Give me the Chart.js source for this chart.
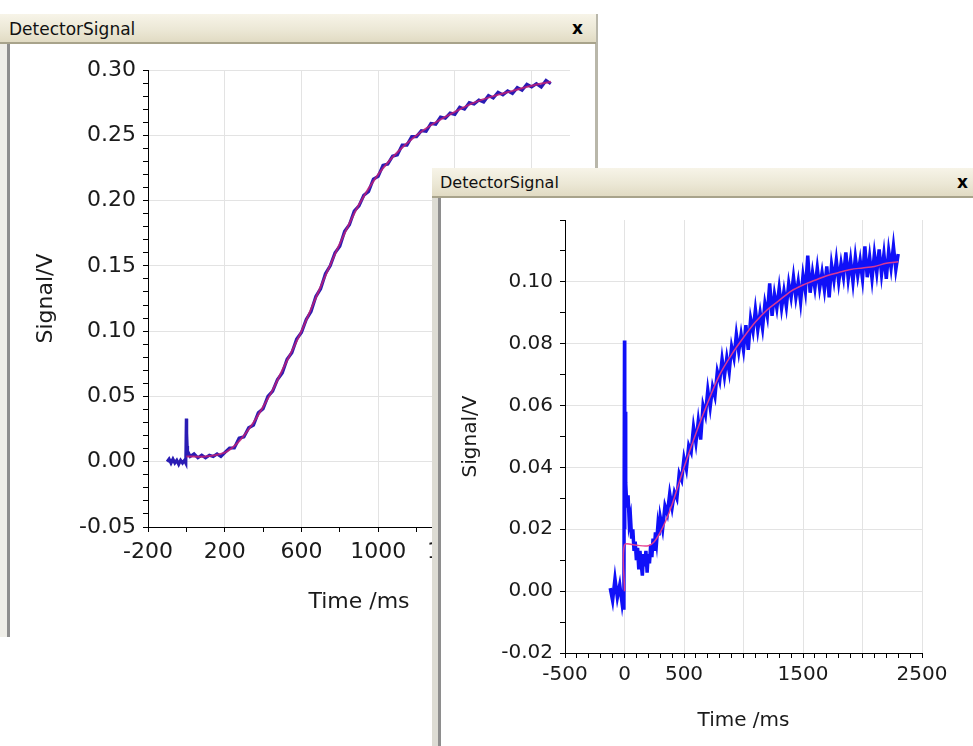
<!DOCTYPE html>
<html><head><meta charset="utf-8">
<script src="https://cdn.jsdelivr.net/npm/chart.js@4.4.1/dist/chart.umd.min.js"></script>
<style>
html,body{margin:0;padding:0;background:#fff;width:973px;height:746px;overflow:hidden;font-family:"DejaVu Sans",sans-serif;}
.abs{position:absolute;}
.tbar{position:absolute;background:linear-gradient(#f7f4e8,#ece8d6 55%,#e1dbc3);border-bottom:2px solid #a8a38b;box-sizing:border-box;}
.ttl{position:absolute;left:9px;top:5px;font-size:17px;color:#111;white-space:nowrap;}
.cls{position:absolute;top:4px;font-size:17px;font-weight:bold;color:#000;}
</style></head><body>
<!-- window 1 frame -->
<div class="abs" style="left:0;top:43px;width:8px;height:594px;background:#efeee8"></div>
<div class="abs" style="left:7px;top:43px;width:3px;height:594px;background:#8e8e8e"></div>
<div class="abs" style="left:595px;top:14px;width:3px;height:160px;background:#b9b7aa"></div>
<div class="tbar" style="left:0;top:14px;width:596px;height:30px"><span class="ttl">DetectorSignal</span><span class="cls" style="left:572px">x</span></div>
<div class="abs" style="left:10px;top:44px;width:585px;height:593px"><canvas id="c1"></canvas></div>
<!-- window 2 frame -->
<div class="abs" style="left:432px;top:168px;width:541px;height:578px;background:#fff;z-index:5">
  <div class="abs" style="left:0;top:29px;width:6px;height:549px;background:#dddcd4"></div>
  <div class="abs" style="left:6px;top:29px;width:3px;height:549px;background:#8e8e8e"></div>
  <div class="tbar" style="left:0;top:0;width:541px;height:30px"><span class="ttl" style="font-size:16px;left:8px">DetectorSignal</span><span class="cls" style="left:525px">x</span></div>
  <div class="abs" style="left:9px;top:30px;width:532px;height:548px"><canvas id="c2"></canvas></div>
</div>
<script>
// ---------- Chart 1 (first window) ----------
const time1 = [-100,-90,-80,-70,-60,-50,-40,-30,-20,-10,-3,
  0,1,2,4,6,10,
  20,40,60,80,100,120,140,160,180,200,
  225,250,275,300,325,350,375,400,425,450,475,500,525,550,575,600,625,650,675,700,
  725,750,775,800,825,850,875,900,925,950,975,1000,1025,1050,1075,1100,1125,1150,1175,1200,
  1225,1250,1275,1300,1325,1350,1375,1400,1425,1450,1475,1500,1525,1550,1575,1600,
  1625,1650,1675,1700,1725,1750,1775,1800,1825,1850,1875,1900];
const signal1 = [0.000,0.002,-0.001,0.002,-0.001,0.001,-0.002,0.001,-0.001,0.001,-0.001,
  0.033,0.006,0.022,0.012,0.006,0.007,
  0.004,0.006,0.003,0.005,0.003,0.005,0.004,0.006,0.004,0.007,
  0.0105,0.0105,0.018,0.019,0.026,0.028,0.0375,0.0405,0.050,0.054,0.063,0.068,0.0785,0.0835,0.094,0.099,0.109,0.115,0.1265,0.1325,
  0.144,0.150,0.160,0.165,0.1765,0.1815,0.192,0.196,0.204,0.207,0.2165,0.2185,0.227,0.228,0.234,0.235,0.2425,0.2425,0.249,0.249,
  0.2535,0.253,0.259,0.2585,0.264,0.263,0.267,0.266,0.2715,0.270,0.275,0.274,0.277,0.2755,0.2805,0.2785,
  0.283,0.281,0.284,0.282,0.2865,0.2845,0.289,0.287,0.2895,0.287,0.292,0.2895];
const fitTime1 = [0,100,200,250,300,350,400,450,500,600,700,800,900,1000,1100,1200,1300,1400,1500,1600,1700,1800,1900];
const fit1 = [0.004,0.004,0.007,0.012,0.020,0.030,0.042,0.055,0.070,0.100,0.134,0.167,0.197,0.220,0.237,0.250,0.260,0.268,0.275,0.280,0.284,0.288,0.291];
const xLabels1 = [-200,200,600,1000,1400,1800];

// ---------- Chart 2 (second window) ----------
const time2 = [-120,-100,-80,-60,-40,-20,-10,-5,
  0,1,2,3,5,8,12,
  20,30,40,50,60,70,80,90,100,110,120,130,140,150,160,170,180,190,200,210,220,230,240,250,260,270,280,290,
  300,320,340,360,380,400,420,440,460,480,500,520,540,560,580,600,620,640,660,680,700,
  720,740,760,780,800,820,840,860,880,900,920,940,960,980,1000,1020,1040,1060,1080,1100,
  1120,1140,1160,1180,1200,1220,1240,1260,1280,1300,1320,1340,1360,1380,1400,1420,1440,1460,1480,1500,
  1520,1540,1560,1580,1600,1620,1640,1660,1680,1700,1720,1740,1760,1780,1800,1820,1840,1860,1880,1900,
  1920,1940,1960,1980,2000,2020,2040,2060,2080,2100,2120,2140,2160,2180,2200,2220,2240,2260,2280,2300];
const signal2 = [0.001,-0.003,0.004,-0.002,0.002,-0.004,-0.001,-0.006,
  0.081,0.020,0.061,0.024,0.058,0.030,0.035,
  0.027,0.031,0.022,0.024,0.017,0.020,0.013,0.016,0.010,0.014,0.007,0.013,0.009,0.005,0.012,0.008,0.013,0.006,0.012,0.009,0.015,0.011,0.017,0.013,0.019,0.016,0.021,0.018,
  0.024,0.020,0.0275,0.025,0.0315,0.027,0.032,0.030,0.038,0.036,0.043,0.0395,0.047,0.045,0.053,0.048,0.055,0.049,0.060,0.057,0.065,
  0.0595,0.066,0.063,0.071,0.068,0.075,0.0695,0.0755,0.071,0.079,0.0755,0.083,0.0775,0.083,0.078,0.086,0.078,0.088,0.084,0.091,
  0.0845,0.090,0.085,0.093,0.089,0.0995,0.089,0.096,0.0915,0.098,0.0915,0.097,0.092,0.0995,0.095,0.1015,0.095,0.100,0.0935,0.102,
  0.097,0.1085,0.0965,0.103,0.098,0.1045,0.098,0.103,0.0975,0.105,0.095,0.1055,0.1005,0.107,0.100,0.106,0.1015,0.1095,0.101,0.107,
  0.100,0.108,0.102,0.107,0.101,0.1115,0.1015,0.108,0.101,0.109,0.103,0.1105,0.1025,0.109,0.101,0.110,0.1045,0.1115,0.104,0.109];
const fitTime2 = [0,0,100,200,250,300,350,400,450,500,600,700,800,900,1000,1100,1200,1300,1400,1500,1600,1700,1800,1900,2000,2100,2200,2300];
const fit2 = [0.0,0.015,0.0148,0.0147,0.016,0.019,0.023,0.028,0.034,0.040,0.051,0.061,0.070,0.0765,0.082,0.087,0.091,0.094,0.097,0.099,0.1005,0.102,0.103,0.104,0.1045,0.105,0.106,0.1065];
const xLabels2 = [-500,0,500,1500,2500];

const pts = (xs, ys) => xs.map((x, i) => ({x, y: ys[i]}));
const GRID = '#e3e3e3';

function makeChart(id, o) {
  return new Chart(document.getElementById(id), {
    type: 'line',
    data: { datasets: [
      { data: pts(o.fitT, o.fit), borderColor: o.fitColor, borderWidth: o.fitW, pointRadius: 0, tension: 0.3, fill: false },
      { data: pts(o.t, o.s), borderColor: o.dataColor, borderWidth: o.dataW, pointRadius: 0, tension: 0, fill: false, borderJoinStyle: 'miter' }
    ]},
    options: {
      animation: false, responsive: true, maintainAspectRatio: false,
      layout: { padding: { top: o.padTop, right: o.padRight, left: 0, bottom: 0 } },
      plugins: { legend: { display: false }, tooltip: { enabled: false } },
      scales: {
        x: {
          type: 'linear', min: o.xMin, max: o.xMax,
          ticks: { stepSize: o.xStep, autoSkip: false, maxRotation: 0, padding: o.xTickPad, color: '#1a1a1a',
            font: { family: 'DejaVu Sans', size: o.fs },
            callback: v => o.xLabels.includes(v) ? String(v) : '' },
          grid: { color: c => (c.tick && o.xGrid(c.tick.value)) ? GRID : 'rgba(0,0,0,0)', tickColor: '#000', tickLength: 5, lineWidth: 1 },
          border: { display: true, color: '#000', width: 1 },
          title: { display: true, text: 'Time /ms', color: '#1a1a1a', font: { family: 'DejaVu Sans', size: o.tfs }, padding: { top: 0, bottom: o.xTitlePad } },
          afterFit: s => { s.height = o.xH; s.paddingLeft = 0; s.paddingRight = 0; }
        },
        y: {
          type: 'linear', min: o.yMin, max: o.yMax,
          ticks: { stepSize: 0.01, autoSkip: false, padding: o.yTickPad, color: '#1a1a1a',
            font: { family: 'DejaVu Sans', size: o.fs },
            callback: v => o.yLabel(Math.round(v * 100)) ? (Math.round(v * 100) / 100).toFixed(2) : '' },
          grid: { color: c => (c.tick && o.yGrid(Math.round(c.tick.value * 100))) ? GRID : 'rgba(0,0,0,0)', tickColor: '#000', tickLength: 5, lineWidth: 1 },
          border: { display: true, color: '#000', width: 1 },
          title: { display: true, text: 'Signal/V', color: '#1a1a1a', font: { family: 'DejaVu Sans', size: o.tfs }, padding: { top: o.yTitlePad, bottom: 0 } },
          afterFit: s => { s.width = o.yW; s.paddingTop = 0; s.paddingBottom = 0; }
        }
      }
    }
  });
}

makeChart('c1', {
  t: time1, s: signal1, fitT: fitTime1, fit: fit1,
  dataColor: '#2a1cb4', dataW: 3.2, fitColor: 'rgba(190,30,120,0.85)', fitW: 2,
  xMin: -200, xMax: 2000, xStep: 200, xLabels: xLabels1,
  xGrid: v => v > -200 && (v + 200) % 400 === 0,
  yMin: -0.05, yMax: 0.30,
  yLabel: r => r % 5 === 0, yGrid: r => r % 5 === 0 && r > -5,
  padTop: 26, padRight: 25, yW: 138, xH: 110,
  fs: 22, tfs: 22, xTickPad: 7, yTickPad: 7, xTitlePad: 22, yTitlePad: 23
});

makeChart('c2', {
  t: time2, s: signal2, fitT: fitTime2, fit: fit2,
  dataColor: '#1010f8', dataW: 3.5, fitColor: 'rgba(230,60,140,0.95)', fitW: 1.5,
  xMin: -500, xMax: 2500, xStep: 100, xLabels: xLabels2,
  xGrid: v => v > -500 && (v + 500) % 500 === 0,
  yMin: -0.02, yMax: 0.12,
  yLabel: r => r % 2 === 0 && r <= 10, yGrid: r => r % 2 === 0 && r > -2 && r <= 10,
  padTop: 22, padRight: 51, yW: 124, xH: 93,
  fs: 20, tfs: 20, xTickPad: 5, yTickPad: 7, xTitlePad: 13, yTitlePad: 18
});
</script>
</body></html>
